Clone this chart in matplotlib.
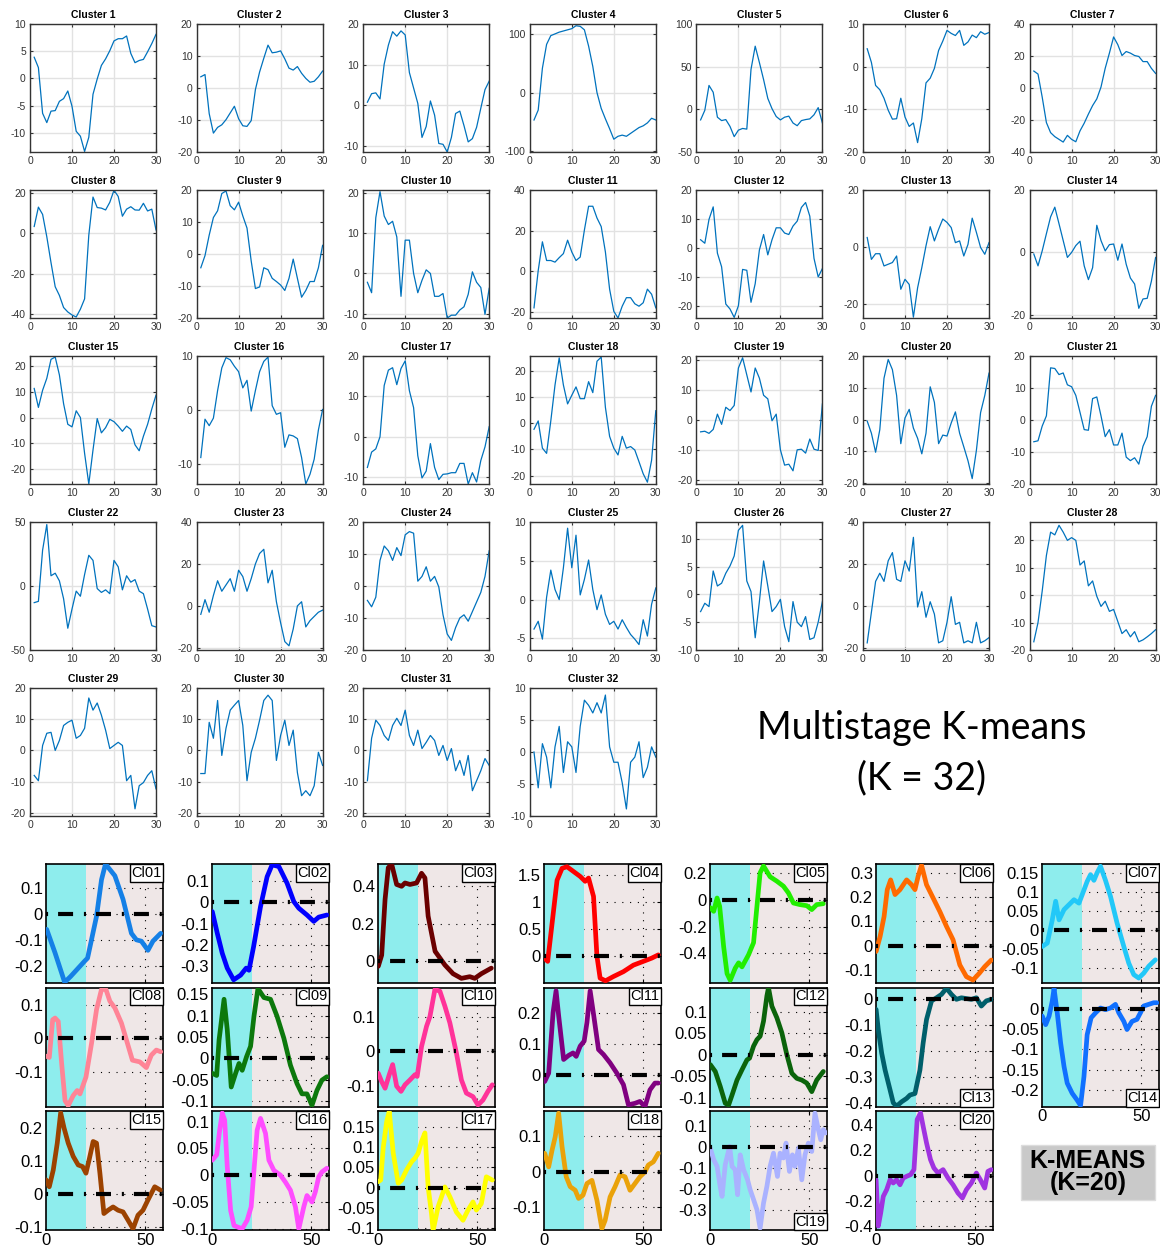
import numpy as np
import matplotlib.pyplot as plt
from matplotlib.patches import Rectangle
from matplotlib.ticker import MultipleLocator, FormatStrFormatter

plt.rcParams['font.family'] = 'Liberation Sans'

W, H = 1160, 1250

# ---------------------------------------------------------------
# Multistage K-means (K = 32): cluster centroids, 30 samples each
# ---------------------------------------------------------------
t_top = np.arange(1, 31)
c01 = [3.9, 2, -6.4, -8.1, -6, -5.9, -4.2, -3.7, -2.3, -5.1, -9.7, -10.6, -13.4, -10.8, -2.9,
       -0.1, 2.4, 3.6, 5.1, 6.9, 7.3, 7.3, 7.8, 4.6, 2.9, 3.3, 3.5, 4.9, 6.4, 8.1]
c02 = [3.5, 4.2, -8, -14.1, -12.3, -11.5, -9.9, -7.8, -5.7, -9.6, -11.8, -12, -10.2, -0.5, 5,
       9.3, 13.4, 11, 11.2, 11.6, 9.1, 6.2, 5.6, 6.7, 4.6, 3, 1.8, 2.1, 3.5, 5.3]
c03 = [0.7, 2.8, 3, 1.5, 10.1, 14.8, 18.1, 17, 18.3, 17.3, 8, 4.2, 0.4, -8, -5.3,
       1, -2.5, -9.5, -9.7, -11.6, -8, -2.1, -1.5, -5.1, -9.1, -8.3, -5.5, -0.8, 3.8, 5.9]
c04 = [-47, -30, 42, 83, 98, 101, 104, 106, 108, 110, 115, 114, 108, 80, 45,
       0, -27, -45, -62, -80, -75, -73, -75, -70, -65, -60, -57, -52, -44, -47]
c05 = [-12.4, -1.2, 28, 20, -9.2, -13.2, -12, -20, -32, -24.4, -22.4, -23.2, 46.8, 74, 54.8,
       34.8, 12.8, 0.8, -8.4, -12.4, -9.2, -8, -16, -19.2, -13.2, -12, -11.2, -6.4, 2, -16]
c06 = [4.2, 1, -4.4, -5.4, -7.4, -10.2, -12.3, -12.2, -7.4, -11.8, -14, -13.2, -17.8, -12.2, -3.8,
       -2.7, -0.4, 3.8, 6, 8.5, 7.8, 7.3, 8.5, 5, 5.8, 7.4, 6.8, 8.2, 7.6, 8]
c07 = [10.6, 8.7, -5.7, -21.6, -27.9, -30.4, -32.1, -33.8, -29.6, -32.1, -33.6, -26.8, -22, -16.3, -11,
       -6.8, 0.6, 12.3, 21.8, 31.9, 27.1, 20.3, 22.8, 21.8, 20.3, 19.7, 16.5, 16.5, 12.3, 9.1]
c08 = [3.4, 13, 9.4, -1.7, -14.5, -26.5, -30.8, -36.8, -39, -40.5, -41.5, -37.6, -32.5, -0.9, 18,
       12.8, 12.5, 11.6, 15.4, 21.4, 18.3, 8.5, 12, 13.2, 11.6, 11.5, 14.9, 11.1, 12, 1.7]
c09 = [-4.3, -0.5, 5.9, 11.4, 13.5, 18.9, 19.7, 15.1, 13.8, 16.2, 11.9, 8.1, -2.2, -10.8, -10.3,
       -4.3, -4.9, -7.6, -8.6, -9.7, -11.4, -7.6, -1.6, -7.6, -13.5, -11.4, -8.6, -8.6, -4.3, 2.7]
c10 = [-2.2, -4.8, 13.9, 20.4, 14.3, 12.2, 13, 9.1, -5.7, 8.3, 8.3, 0, -4.8, -1.7, 0.9,
       0, -5.7, -5.7, -5, -11.1, -10.4, -10.4, -9.1, -8.3, -5.2, 0.4, -2.2, -3.5, -10.2, -3.7]
c11 = [-18, 0.3, 14.5, 5.3, 5.3, 4.5, 6.7, 8.7, 15.3, 9.5, 5.3, 7, 20.3, 32, 32,
       26.2, 22, 9.5, -8.8, -19.7, -23, -17.2, -13, -13, -16, -17.2, -15.5, -8.8, -11.3, -18]
c12 = [2.9, 1.7, 9.9, 14.2, -1.7, -6.4, -19.2, -20.9, -23.8, -19.8, -7.3, -7.6, -18.6, -12.2, -0.6,
       4.7, -2.3, 2.9, 7, 7, 5.2, 4.7, 7.6, 9.3, 14, 15.7, 11, -3.5, -9.9, -7]
c13 = [3.3, -4.4, -2.4, -2.4, -6.7, -6.1, -5.5, -3.2, -14.9, -11.4, -13.2, -24.7, -14.4, -7.3, 0.4,
       7.1, 2.1, 6.2, 9.8, 8.6, 6.8, 1.5, 2.1, -3.2, 0.9, 10.1, 5.1, -0.2, -2.6, 1.5]
c14 = [-0.5, -4.3, 0.5, 6, 11.4, 14.5, 9.2, 3.8, -1.6, 0, 2.2, 3.6, -4.3, -8.7, -4.9,
       8.7, 3.8, 0.5, 2.5, 2.7, -2.5, 2.7, -3.8, -8.2, -10.1, -17.9, -14.9, -14.7, -9.2, -1.6]
c15 = [11.2, 3.9, 10.5, 15.1, 22.4, 23.3, 16.4, 5.3, -2.6, -3.6, 2.6, 0, -13.8, -25.6, -12.5,
       -0.4, -5.9, -3.9, -0.7, -1.6, -3.3, -5.3, -3.3, -4.6, -10.5, -12.8, -7.2, -2.6, 3.3, 8.6]
c16 = [-8.8, -1.7, -2.9, -1.5, 3.6, 7.8, 9.7, 9.3, 8.1, 7.1, 4.1, 5.5, -0.2, 3.6, 7.1,
       9, 9.8, 0.8, -0.8, -0.5, -6.9, -4.6, -4.8, -5.3, -8.8, -13.7, -11.9, -9.1, -3.7, 0.1]
c17 = [-7.6, -3.8, -3, 0, 12.7, 16.5, 17.1, 12.9, 16.9, 18.8, 11.4, 7.2, -4.7, -10.2, -8.5,
       -1.7, -7.6, -10.6, -9.3, -9.2, -8.9, -8.9, -6.6, -6.6, -11.7, -8.9, -11.2, -5.9, -2.5, 2.5]
c18 = [-2.3, 0.9, -9.5, -11.5, 0.9, 14.6, 25, 14.6, 7.4, 10.7, 13.9, 9.4, 9.4, 15.9, 11.7,
       23.7, 25.3, 6.1, -5, -9.5, -12.1, -5, -9.5, -8.9, -10.2, -14.7, -19.3, -22.5, -14.1, 4.8]
c19 = [-4, -3.8, -4.5, -3.2, 1.9, -1.5, 4.2, 3.1, 4.8, 17.3, 20.7, 15, 9.3, 17.3, 13.9,
       8.2, 7, -0.3, 1.9, -10, -15.1, -14.8, -17, -10, -9.8, -11.1, -6.4, -9.8, -10.2, 5.3]
c20 = [-0.5, -4.3, -10.3, -3.2, 13, 18.9, 15.7, 7.6, -7.6, 0.5, 3.2, -2.7, -5.9, -10.8, -4.3,
       10.3, 5.4, -7.6, -4.9, -5.2, -1.1, 2.4, -4.3, -8.6, -13, -18.6, -9.7, 2.2, 7.6, 14.6]
c21 = [-6.8, -6.5, -1.9, 1.3, 16.3, 16.1, 14.2, 14.7, 11, 10.4, 7.7, 2.4, -3, -3.2, 6.7,
       7.2, 1.3, -5.2, -3, -7.8, -7.8, -4.1, -11.6, -12.7, -11.8, -13.8, -8.2, -5.2, 4.3, 7.7]
c22 = [-13, -12, 28, 48, 8, 10, 4, -10, -33, -18, -4, -8, 9, 24, 20,
       -2, -5, -3, -6, 20, 15, -3, 8, 3, 5, -4, -6, -18, -31, -32]
c23 = [-4, 3, -3, 5, 12, 7, 10, 13, 7, 17, 14, 7, 13, 20, 25,
       27, 11, 17, 2, -8, -17, -19, -11, 0, 2, -10, -7, -5, -3, -2]
c24 = [-4.5, -6.5, -3.5, 8, 12.5, 11, 8, 12, 9.5, 16, 17, 16.5, 1.5, 3, 6,
       1.5, 3, -0.3, -9, -15, -17, -13, -10, -9, -11, -8, -5, -2, 3, 11]
c25 = [-3.8, -2.8, -5.1, 0.3, 3.8, 1.3, 0, 4.1, 9.2, 4.1, 8.3, 0.6, 2.6, 5.1, 1.3,
       -1.3, 0.6, -1.9, -3.2, -2.8, -3.8, -2.6, -3.6, -4.5, -5.1, -5.8, -2.6, -4.7, -0.6, 1.5]
c26 = [-3.1, -1.6, -2.2, 4.2, 1.5, 2, 3.8, 5.1, 6.9, 11.5, 12.4, 2.4, 0.5, -7.8, -1.3,
       6, 1.5, -3.1, -2.2, -0.9, -5.8, -8.5, -1.3, -5, -5.8, -4, -8.1, -7.8, -5, -1.3]
c27 = [-17.6, -3, 11.7, 15.6, 11.7, 21.5, 25.4, 12.7, 11.7, 21.5, 16.6, 32.7, -0.5, 6.8, -5.4,
       2, -3.9, -17.6, -16.6, -7.8, 4.4, -8.8, -7.8, -17.6, -16.6, -17.6, -7.8, -17.6, -16.6, -15.1]
c28 = [-17, -10, 1.5, 14.5, 23, 22, 25.5, 23, 20, 21, 20, 11, 12.5, 3.4, 5.2,
       -0.4, -4.1, -2.2, -5.9, -5.2, -9.6, -14, -12.6, -15.2, -13.3, -17, -16.3, -15.2, -14, -12.6]
c29 = [-8, -9.7, 1.6, 5.5, 5.8, 0, 3.2, 8, 9, 9.7, 3.9, 4.8, 7.1, 16.8, 12.9,
       15.2, 11.3, 6.5, 0.6, 1.6, 2.6, 1.6, -9.7, -8, -18.7, -11.3, -10.3, -8, -6.5, -12.3]
c30 = [-7.4, -7.4, 9, 3.9, 16, -1.6, 7.1, 12.9, 14.5, 16, 8, -9.7, -0.6, 3.9, 9.7,
       16, 17.7, 16, -3.2, 4.8, 9.7, 1.6, 6.5, -7.1, -14.5, -12.9, -14.5, -11.3, -0.6, -4.8]
c31 = [-9.7, 3.9, 9.7, 8, 4.8, 3.2, 8, 10.3, 8, 12.9, 4.8, 1.6, 6.5, 0.6, 2.6,
       4.8, 3.2, -1.6, 1.6, -3.2, 0.6, -6.5, -3.2, -8, -1.6, -12.9, -9.7, -6.5, -2.6, -4.8]
c32 = [0, -5.6, 1.3, -0.8, -5.6, 0.8, 4, -3.2, 1.6, 0.8, -3.2, 4, 8.1, 7.3, 6.1,
       7.7, 6.1, 8.9, 0.8, -1.6, -1.6, -4.8, -8.9, -1.6, -0.8, 1.6, -4, -2.4, 0.8, -0.8]

top_curves = [c01, c02, c03, c04, c05, c06, c07, c08, c09, c10, c11, c12, c13, c14, c15, c16,
              c17, c18, c19, c20, c21, c22, c23, c24, c25, c26, c27, c28, c29, c30, c31, c32]
top_ylim = [(-13.5, 10), (-20, 20), (-11.6, 20), (-102, 118), (-50, 100), (-20, 10), (-40, 40),
            (-42, 21.5), (-20, 20), (-11.1, 20.8), (-23, 40), (-24, 20), (-25, 20), (-21, 20),
            (-25.6, 23.7), (-13.7, 10), (-11.7, 20), (-23.2, 25.7), (-21.4, 21.3), (-20.3, 20),
            (-20, 20), (-50, 50), (-21, 40), (-20, 20), (-6.5, 10), (-10, 13), (-21, 40),
            (-20, 26.7), (-21, 20), (-21, 20), (-21, 20), (-10, 10)]
top_ystep = [5, 10, 10, 100, 50, 10, 20, 20, 10, 10, 20, 10, 20, 20, 10, 10,
             10, 10, 10, 10, 10, 50, 20, 10, 5, 5, 20, 10, 10, 10, 10, 5]

# ---------------------------------------------------------------
# K-MEANS (K = 20): centroid vertices (sample index, amplitude)
# ---------------------------------------------------------------
kx01 = [0.5, 4.7, 9.5, 12.5, 15.5, 19.7, 21, 25.5, 28, 30, 34.7, 38.8, 43, 45.5, 48, 51.3, 53.8, 57.7]
ky01 = [-0.06, -0.15, -0.262, -0.24, -0.215, -0.18, -0.17, -0.01, 0.13, 0.19, 0.145, 0.055, -0.075,
        -0.1, -0.105, -0.14, -0.105, -0.075]
kx02 = [0.3, 2.8, 5.3, 7.8, 11, 14.5, 17.3, 18.7, 21, 24.5, 27.8, 30.3, 33.7, 37.8, 41.2, 43.7, 47.8,
        51.2, 53.7, 57.8]
ky02 = [-0.044, -0.146, -0.24, -0.31, -0.365, -0.343, -0.31, -0.32, -0.21, -0.02, 0.12, 0.176, 0.168,
        0.09, 0.003, -0.028, -0.06, -0.09, -0.07, -0.06]
kx03 = [0.3, 2, 3.7, 5.3, 7, 9.5, 12, 13.7, 16.2, 19.5, 22, 23.7, 25.3, 28.8, 29.5, 33.7, 37.8, 42,
        46.2, 48.7, 52, 57]
ky03 = [-0.03, 0.03, 0.33, 0.5, 0.52, 0.41, 0.4, 0.418, 0.41, 0.418, 0.47, 0.445, 0.24, 0.05, 0.04,
        -0.023, -0.07, -0.095, -0.086, -0.095, -0.07, -0.04]
kx04 = [0.5, 2, 4.2, 6.7, 9.2, 11.7, 15, 18.3, 20.8, 22.5, 25, 26.7, 28.3, 31, 35, 40, 45, 50, 54.2, 57.5]
ky04 = [-0.04, -0.1, 0.6, 1.4, 1.62, 1.65, 1.56, 1.47, 1.38, 1.44, 1.1, 0, -0.41, -0.46, -0.38, -0.29,
        -0.17, -0.1, -0.04, 0.02]
kx05 = [0.3, 2, 3.7, 5, 7, 8.7, 10.3, 12.8, 14.5, 16.2, 19.5, 22, 23.7, 25.3, 27, 30.3, 33.7, 37,
        39.5, 42, 45.3, 48.7, 51.2, 53.7, 57]
ky05 = [-0.06, -0.087, 0.012, -0.05, -0.35, -0.55, -0.6, -0.51, -0.47, -0.5, -0.41, -0.32, -0.05,
        0.2, 0.25, 0.17, 0.137, 0.1, 0.05, -0.025, -0.037, -0.045, -0.074, -0.037, -0.03]
kx06 = [0.2, 2.2, 4.2, 5.8, 7.5, 9.7, 12.2, 15.5, 18, 19.7, 21.3, 23, 25.5, 28.8, 32.2, 35.5, 38.8,
        42.2, 45.5, 48.8, 52, 54.7, 58]
ky06 = [-0.023, 0.038, 0.12, 0.23, 0.27, 0.21, 0.23, 0.27, 0.25, 0.23, 0.285, 0.33, 0.25, 0.196,
        0.14, 0.08, 0.025, -0.078, -0.126, -0.14, -0.112, -0.085, -0.058]
kx07 = [0.3, 2.8, 5.3, 7, 8.7, 11.2, 13.7, 16.2, 18.7, 20.3, 22.8, 24.5, 26.2, 27.8, 29.5, 32, 34.5,
        37.8, 41.2, 43.7, 46.2, 48.7, 51.2, 53.7, 57]
ky07 = [-0.044, -0.035, 0.026, 0.075, 0.026, 0.053, 0.066, 0.079, 0.07, 0.092, 0.127, 0.145, 0.13,
        0.15, 0.167, 0.13, 0.088, 0.018, -0.044, -0.088, -0.118, -0.127, -0.114, -0.096, -0.079]
kx08 = [0.2, 1.8, 3.5, 4.7, 6.3, 8, 9.7, 11.3, 13.8, 15.8, 17.2, 20.2, 23, 25.5, 28, 30.2, 32.2, 34.7,
        38, 40.5, 43.5, 47.2, 50.5, 53, 55.5, 57.7]
ky08 = [-0.053, -0.057, 0.055, 0.06, 0.05, -0.075, -0.185, -0.2, -0.17, -0.155, -0.165, -0.115,
        -0.015, 0.085, 0.145, 0.145, 0.11, 0.09, 0.045, -0.005, -0.065, -0.07, -0.087, -0.05,
        -0.035, -0.04]
kx09 = [0.3, 2.5, 3.7, 6.2, 7.8, 9.8, 12, 13.7, 15.3, 17.5, 19.5, 21.2, 23.2, 26.2, 29.5, 32.8, 36.2,
        39.5, 42.8, 45.3, 47.8, 50.3, 52.8, 55.3, 57.8]
ky09 = [-0.035, -0.04, 0.043, 0.138, 0.067, -0.067, -0.035, -0.012, -0.028, 0.004, 0.028, 0.098,
        0.163, 0.142, 0.138, 0.098, 0.047, -0.016, -0.059, -0.083, -0.083, -0.11, -0.075, -0.051,
        -0.043]
kx10 = [0.3, 2, 3.7, 5.8, 7.5, 9.5, 11.7, 13.7, 16.2, 18.7, 19.8, 22, 24.5, 26.2, 28.7, 31.2, 33.7,
        36.2, 39.5, 42, 44.5, 47.8, 50.3, 52.8, 55.3, 57.5]
ky10 = [-0.063, -0.087, -0.106, -0.067, -0.038, -0.1, -0.115, -0.096, -0.082, -0.067, -0.072, 0.014,
        0.072, 0.1, 0.178, 0.173, 0.13, 0.082, -0.005, -0.082, -0.12, -0.13, -0.154, -0.14, -0.115,
        -0.096]
kx11 = [0.5, 2.5, 4.7, 6.2, 7.5, 10, 12.5, 14.7, 16.3, 18.3, 20.3, 21.7, 23.3, 25, 27.5, 30, 33.3,
        36.7, 40, 42.5, 45.8, 48.3, 50.8, 53.3, 55.8, 57.5]
ky11 = [-0.022, 0.005, 0.2, 0.27, 0.19, 0.049, 0.062, 0.07, 0.059, 0.092, 0.108, 0.168, 0.27, 0.195,
        0.081, 0.065, 0.038, 0.005, -0.032, -0.097, -0.092, -0.086, -0.103, -0.049, -0.027, -0.027]
kx12 = [0.3, 2.8, 5.3, 7.8, 9.5, 11.2, 13.7, 16.2, 18.7, 20, 22, 23.7, 25.3, 27, 28.7, 29.5, 31.2,
        33.7, 36.2, 38.7, 41.2, 43.7, 46.2, 48.7, 51.2, 53.7, 57]
ky12 = [-0.023, -0.039, -0.074, -0.113, -0.117, -0.094, -0.059, -0.035, -0.012, -0.008, 0.02, 0.035,
        0.043, 0.078, 0.137, 0.156, 0.113, 0.086, 0.051, 0, -0.043, -0.055, -0.059, -0.066, -0.086,
        -0.059, -0.039]
kx13 = [0.2, 1.3, 3, 4.7, 7.2, 8.8, 10.5, 13, 15.5, 17.2, 19.7, 22.2, 23.8, 25.5, 28, 30.5, 33, 35.5,
        38, 40.5, 43, 45.5, 48, 50.5, 53, 55.5, 58]
ky13 = [-0.039, -0.117, -0.208, -0.273, -0.35, -0.4, -0.413, -0.396, -0.383, -0.37, -0.364, -0.273,
        -0.169, -0.078, -0.006, 0.006, 0.019, 0.043, 0.019, 0, 0.006, 0.003, 0, 0.006, -0.026,
        -0.006, 0]
kx14 = [0.3, 2, 3.7, 5.3, 6.2, 7.8, 9.5, 11.2, 12.8, 15.3, 17.8, 19.5, 21.2, 22.8, 24.8, 27, 29.5, 32,
        34.5, 37, 38.7, 41.2, 42.8, 45.3, 47.8, 49.5, 51.2, 53.7, 56.2, 57.8]
ky14 = [-0.018, -0.039, -0.018, 0.019, 0.05, -0.01, -0.084, -0.142, -0.183, -0.208, -0.225, -0.238,
        -0.167, -0.064, -0.022, -0.01, 0.002, -0.002, 0.002, 0.011, -0.01, -0.031, -0.051, -0.031,
        -0.026, -0.01, 0.007, 0.011, 0.015, 0.015]
kx15 = [0.2, 1.8, 3.8, 5.8, 7.5, 9.2, 11.3, 13.8, 16.3, 18.5, 20.2, 21.8, 23.8, 25.5, 27.2, 29.2, 31.3,
        33.8, 36.3, 38.8, 41.3, 43.8, 46.3, 48.8, 51.3, 54.7, 57.5]
ky15 = [0.043, 0.022, 0.073, 0.154, 0.246, 0.2, 0.154, 0.114, 0.088, 0.083, 0.063, 0.104, 0.159,
        0.154, 0.063, -0.059, -0.049, -0.039, -0.049, -0.054, -0.079, -0.105, -0.064, -0.049,
        -0.018, 0.022, 0.012]
kx16 = [0.3, 2.5, 4, 5.3, 6.5, 7.8, 9.5, 11.2, 13.2, 15.3, 17.8, 19.8, 21.2, 22.8, 24.5, 27, 28.7,
        31.2, 34.5, 37, 39.5, 42, 43.7, 46.2, 47.8, 50.3, 52, 53.7, 55.3, 57.8]
ky16 = [0.028, 0.038, 0.084, 0.116, 0.103, 0.016, -0.066, -0.094, -0.097, -0.1, -0.084, -0.059,
        0.009, 0.084, 0.106, 0.078, 0.028, 0.009, 0, -0.013, -0.028, -0.059, -0.1, -0.059, -0.038,
        -0.05, -0.031, -0.003, 0.006, 0.013]
kx17 = [0.3, 1.5, 2.8, 4.5, 5.8, 7.8, 10.3, 12, 14.5, 17, 18.7, 20.3, 22, 23.7, 25.3, 27, 27.8, 30.3,
        33.7, 36.2, 39.5, 42.8, 45.3, 47.8, 49.5, 52, 54.5, 57.5]
ky17 = [0.015, 0.019, 0.1, 0.163, 0.188, 0.085, 0.011, 0.019, 0.044, 0.064, 0.073, 0.085, 0.114,
        0.135, 0.002, -0.064, -0.105, -0.047, 0.002, -0.022, -0.06, -0.08, -0.055, -0.035, -0.055,
        -0.039, 0.027, 0.019]
kx18 = [0.5, 2.5, 4.2, 5.8, 7.5, 9.2, 11.3, 13.3, 15.8, 17.5, 19.7, 21.7, 24.2, 26.7, 29.2, 30.8,
        33.3, 35.8, 38.3, 40.8, 43.3, 45.8, 48.3, 50.8, 52.5, 55, 57.5]
ky18 = [0.052, 0.014, 0.061, 0.099, 0.165, 0.071, -0.014, -0.042, -0.052, -0.075, -0.066, -0.033,
        -0.024, -0.08, -0.16, -0.137, -0.071, -0.042, -0.009, -0.014, -0.052, -0.033, -0.014, 0,
        0.019, 0.028, 0.052]
kx19 = [0.3, 2, 3.7, 5.3, 6.2, 7.8, 10, 11.2, 12.8, 14, 15.3, 17, 19, 20.3, 22, 23.7, 25.3, 27, 28.7,
        30.3, 32, 34, 35.3, 37, 38.3, 40, 41.5, 42.8, 44.5, 46.2, 47.8, 49.5, 51.2, 52.8, 54.5, 55.7,
        57, 58.2]
ky19 = [-0.005, -0.06, -0.092, -0.19, -0.235, -0.084, 0.003, -0.092, -0.108, -0.227, -0.037, -0.108,
        -0.156, -0.203, -0.25, -0.298, -0.386, -0.267, -0.187, -0.092, -0.029, -0.14, -0.029,
        -0.052, 0.019, -0.116, -0.037, -0.092, -0.005, -0.156, -0.037, 0.019, -0.021, 0.162,
        0.083, 0.035, 0.083, 0.067]
kx20 = [0.2, 1.3, 2.5, 3.8, 5.5, 7.2, 8.8, 10.5, 12.2, 13.8, 15.5, 17.5, 19.2, 20.8, 22.5, 23.8, 25.5,
        27.5, 29.2, 31.3, 33.8, 36.3, 38.8, 41.3, 43.5, 45.5, 48, 50.5, 52.5, 54.7, 56.3, 58]
ky20 = [-0.032, -0.4, -0.297, -0.164, -0.111, -0.032, -0.058, -0.032, -0.072, -0.019, -0.005, 0.008,
        0.048, 0.445, 0.498, 0.392, 0.26, 0.127, 0.061, 0.021, 0.048, -0.019, -0.072, -0.138,
        -0.177, -0.111, -0.058, 0.021, -0.032, -0.098, 0.034, 0.048]

km_x = [kx01, kx02, kx03, kx04, kx05, kx06, kx07, kx08, kx09, kx10,
        kx11, kx12, kx13, kx14, kx15, kx16, kx17, kx18, kx19, kx20]
km_y = [ky01, ky02, ky03, ky04, ky05, ky06, ky07, ky08, ky09, ky10,
        ky11, ky12, ky13, ky14, ky15, ky16, ky17, ky18, ky19, ky20]
km_names = [f"Cl{i:02d}" for i in range(1, 21)]
km_colors = ["#1580e6", "#0000ff", "#6a0000", "#ff0000", "#22ee00", "#ff6a00", "#22c8f8",
             "#ff8496", "#0c780c", "#ff3399", "#800080", "#0b640b", "#005f6b", "#1070ff",
             "#9c4200", "#ff4dff", "#ffff00", "#eaa20a", "#aab2ff", "#a033e0"]
km_ylim = [(-0.265, 0.19), (-0.38, 0.18), (-0.12, 0.52), (-0.5, 1.7), (-0.62, 0.265),
           (-0.152, 0.335), (-0.14, 0.173), (-0.203, 0.15), (-0.113, 0.165), (-0.159, 0.183),
           (-0.103, 0.28), (-0.121, 0.156), (-0.415, 0.045), (-0.241, 0.052), (-0.11, 0.25),
           (-0.103, 0.119), (-0.105, 0.188), (-0.165, 0.17), (-0.397, 0.17), (-0.434, 0.51)]
km_yticks = [[-0.2, -0.1, 0, 0.1], [-0.3, -0.2, -0.1, 0, 0.1], [0, 0.2, 0.4], [0, 0.5, 1, 1.5],
             [-0.4, -0.2, 0, 0.2], [-0.1, 0, 0.1, 0.2, 0.3], [-0.1, -0.05, 0, 0.05, 0.1, 0.15],
             [-0.1, 0, 0.1], [-0.1, -0.05, 0, 0.05, 0.1, 0.15], [-0.1, 0, 0.1], [0, 0.1, 0.2],
             [-0.1, -0.05, 0, 0.05, 0.1], [-0.4, -0.3, -0.2, -0.1, 0],
             [-0.2, -0.15, -0.1, -0.05, 0], [-0.1, 0, 0.1, 0.2], [-0.1, -0.05, 0, 0.05, 0.1],
             [-0.1, -0.05, 0, 0.05, 0.1, 0.15], [-0.1, 0, 0.1], [-0.3, -0.2, -0.1, 0, 0.1],
             [-0.4, -0.2, 0, 0.2, 0.4]]
km_label_bottom = ["Cl13", "Cl14", "Cl19"]


def px_rect(left, top, w, h):
    # pixel box (from top-left) -> figure fraction
    return [left / W, 1 - (top + h) / H, w / W, h / H]


fig = plt.figure(figsize=(W / 100, H / 100), dpi=100)

# top block: MATLAB-like small multiples
for i, y in enumerate(top_curves):
    r, c = divmod(i, 7)
    ax = fig.add_axes(px_rect(30 + 166.6 * c, 24 + 166 * r, 126, 128))
    ax.plot(t_top, y, color="#0072BD", lw=0.9)
    ax.set_xlim(0, 30)
    ax.set_ylim(*top_ylim[i])
    ax.xaxis.set_major_locator(MultipleLocator(10))
    ax.yaxis.set_major_locator(MultipleLocator(top_ystep[i]))
    ax.yaxis.set_major_formatter(FormatStrFormatter("%g"))
    ax.grid(True, color="#e2e2e2", lw=1)
    ax.tick_params(direction="in", length=2, labelsize=7.5, colors="#333333",
                   top=True, right=True, pad=3)
    for s in ax.spines.values():
        s.set_color("#333333")
        s.set_linewidth(1)
    ax.set_title(f"Cluster {i + 1}", fontsize=7.5, fontweight="bold", pad=4)

fig.text(922 / W, 1 - 728 / H, "Multistage K-means", family="Lato", fontsize=27,
         ha="center", va="center")
fig.text(922 / W, 1 - 778 / H, "(K = 32)", family="Lato", fontsize=27,
         ha="center", va="center")

# bottom block: K-MEANS (K=20)
for i in range(20):
    r, c = divmod(i, 7)
    ax = fig.add_axes(px_rect(45.7 + 166 * c, 864 + 123.7 * r, 117.6, 119))
    ax.set_facecolor("#efe7e7")
    ax.axvspan(0, 20, color="#8eeded", lw=0, zorder=1.6)
    ax.plot(km_x[i], km_y[i], color=km_colors[i], lw=3.4, zorder=3,
            solid_joinstyle="round", solid_capstyle="round")
    ax.axhline(0, color="k", lw=3, dashes=(0.5, 2.4, 3.6, 2.6), zorder=4)
    ax.set_xlim(0, 59)
    ax.set_ylim(*km_ylim[i])
    ax.set_xticks([0, 50])
    ax.set_yticks(km_yticks[i])
    ax.yaxis.set_major_formatter(FormatStrFormatter("%g"))
    ax.grid(True, color="k", ls=(0, (1, 6)), lw=0.8)
    ax.tick_params(direction="in", length=3, top=True, right=True, labelsize=12, pad=2)
    if r < 2 and km_names[i] != "Cl14":
        ax.tick_params(labelbottom=False)
    for s in ax.spines.values():
        s.set_linewidth(1.2)
    box = dict(boxstyle="square,pad=0.12", fc="white", ec="black", lw=1)
    if km_names[i] in km_label_bottom:
        ax.text(0.985, 0.015, km_names[i], transform=ax.transAxes, ha="right", va="bottom",
                fontsize=10.5, bbox=box, zorder=6)
    else:
        ax.text(0.985, 0.985, km_names[i], transform=ax.transAxes, ha="right", va="top",
                fontsize=10.5, bbox=box, zorder=6)

fig.add_artist(Rectangle((1021 / W, 1 - 1200 / H), 134 / W, 55 / H,
                         transform=fig.transFigure, fc="#c9c9c9", ec="#dddddd", lw=1))
fig.text(1088 / W, 1 - 1172 / H, "K-MEANS\n(K=20)", fontsize=18, fontweight="bold",
         ha="center", va="center", linespacing=0.85)

fig.savefig("out.png", dpi=100)
